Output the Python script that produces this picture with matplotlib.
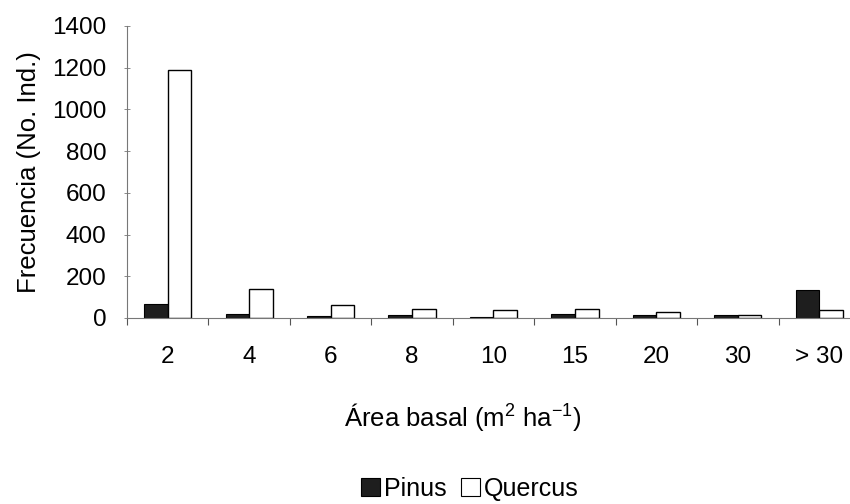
import matplotlib.pyplot as plt
import numpy as np

categories = ["2", "4", "6", "8", "10", "15", "20", "30", "> 30"]
pinus = [68, 18, 10, 15, 5, 20, 15, 15, 134]
quercus = [1190, 140, 62, 45, 37, 45, 30, 12, 38]

plt.rcParams["font.family"] = ["Liberation Sans", "DejaVu Sans"]
plt.rcParams["mathtext.fontset"] = "custom"
plt.rcParams["mathtext.rm"] = "Liberation Sans"

fig = plt.figure(figsize=(8.5, 5.04), dpi=100)
# axes run a bit past the right edge, like the cropped original
ax = fig.add_axes([127 / 850, 186 / 504, 733 / 850, 292 / 504])

x = np.arange(len(categories))
w = 0.29
ax.bar(x - w / 2, pinus, width=w, color="#1e1e1e", edgecolor="black", linewidth=0.8)
ax.bar(x + w / 2, quercus, width=w, color="white", edgecolor="black", linewidth=1.0)

ax.set_xlim(-0.5, len(categories) - 0.5)
ax.set_ylim(0, 1400)
ax.set_yticks(np.arange(0, 1401, 200))

# boundary ticks without labels, labels at category centres
ax.set_xticks(np.arange(-0.5, len(categories) - 0.5, 1))
ax.set_xticklabels([])
ax.set_xticks(x, minor=True)
ax.set_xticklabels(categories, minor=True)
ax.tick_params(axis="x", which="major", direction="out", length=5, width=0.8, color="#555555")
ax.tick_params(axis="x", which="minor", length=0, pad=20, labelsize=17.5)
ax.tick_params(axis="y", direction="inout", length=4, width=0.6, color="#777777",
               pad=13, labelsize=17.5)

for side in ("top", "right"):
    ax.spines[side].set_visible(False)
for side in ("left", "bottom"):
    ax.spines[side].set_color("#777777")
    ax.spines[side].set_linewidth(0.8)

ax.set_ylabel("Frecuencia (No. Ind.)", fontsize=18.5, labelpad=8)
fig.text(463 / 850, 1 - 418 / 504, "Área basal (m$^\\mathrm{2}$ ha$^\\mathrm{-1}$)",
         ha="center", va="center", fontsize=18.5)

handles = [plt.Rectangle((0, 0), 1, 1, facecolor="#1e1e1e", edgecolor="black", linewidth=0.8),
           plt.Rectangle((0, 0), 1, 1, facecolor="white", edgecolor="black", linewidth=0.8)]
fig.legend(handles, ["Pinus", "Quercus"], loc="center", bbox_to_anchor=(470 / 850, 1 - 489 / 504),
           ncol=2, frameon=False, fontsize=18, handlelength=0.75, handleheight=0.75,
           handletextpad=0.15, columnspacing=0.6, borderpad=0)

fig.savefig("out.png", dpi=100)
